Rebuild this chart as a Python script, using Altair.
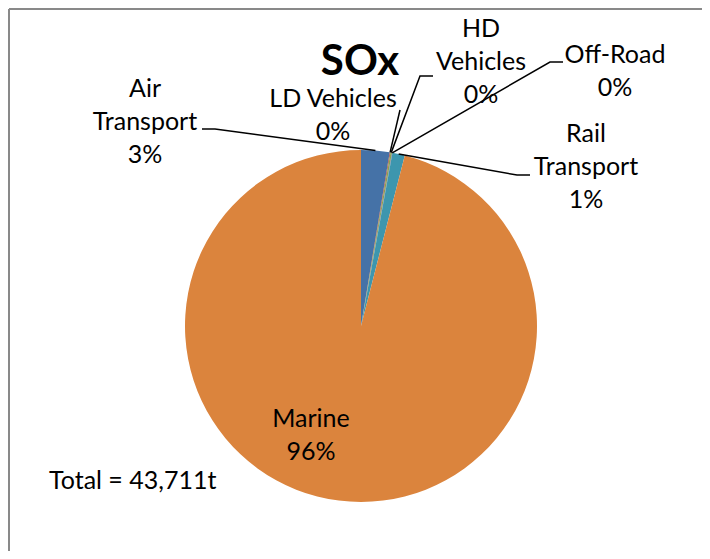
import math
import altair as alt
import pandas as pd

# ---------------- data ----------------
categories = ["Air Transport", "LD Vehicles", "HD Vehicles", "Off-Road", "Rail Transport", "Marine"]
values_t = [1140, 30, 60, 20, 500, 41961]          # tonnes of SOx
label_lines = [["Air", "Transport"], ["LD Vehicles"], ["HD", "Vehicles"],
               ["Off-Road"], ["Rail", "Transport"], ["Marine"]]
colors = ["#4572A7", "#AA4643", "#89A54E", "#80699B", "#3D96AE", "#DB843D"]
title_text = "SOx"

total = sum(values_t)
pcts = [f"{round(v / total * 100)}%" for v in values_t]

# ---------------- layout (view pixels = page pixels - 8) ----------------
W, H = 694, 543
OFF = 8
CX, CY, R = 361 - OFF, 326 - OFF, 176
LINE_H = 33
FONT = "Lato"
FS = 25

# label anchor: centre x, baseline of first line (page coords)
label_pos = {
    "Air Transport": (145, 97),
    "LD Vehicles": (333, 107),
    "HD Vehicles": (481, 37),
    "Off-Road": (615, 63),
    "Rail Transport": (586, 142),
    "Marine": (311, 427),
}
# leader line start points (page coords) before reaching the slice edge
leader_pts = {
    "Air Transport": [(202, 129), (215, 129)],
    "LD Vehicles": [(400, 110)],
    "HD Vehicles": [(433, 76), (420, 76)],
    "Off-Road": [(563, 62), (550, 62)],
    "Rail Transport": [(530, 175), (517, 175)],
}

# ---------------- tables ----------------
pie_df = pd.DataFrame({"category": categories, "value": values_t, "idx": range(len(categories))})

rows = []
for cat, lines, pct in zip(categories, label_lines, pcts):
    cx, by = label_pos[cat]
    for i, txt in enumerate(lines + [pct]):
        rows.append({"x": cx - OFF, "y": by + i * LINE_H - OFF, "text": txt})
text_df = pd.DataFrame(rows)

# slice mid-angle edge points
cum = 0
edge = {}
for cat, v in zip(categories, values_t):
    mid = (cum + v / 2) / total * 2 * math.pi
    edge[cat] = (CX + R * math.sin(mid), CY - R * math.cos(mid))
    cum += v

lrows = []
for cat, pts in leader_pts.items():
    seq = 0
    for (px, py) in pts:
        lrows.append({"cat": cat, "seq": seq, "x": px - OFF, "y": py - OFF})
        seq += 1
    ex, ey = edge[cat]
    lrows.append({"cat": cat, "seq": seq, "x": ex, "y": ey})
leader_df = pd.DataFrame(lrows)

border_df = pd.DataFrame({"x": [1, 1], "y": [1, 1], "x2": [W, 1], "y2": [1, H]})
title_df = pd.DataFrame({"x": [360 - OFF], "y": [75 - OFF], "text": [title_text]})
total_df = pd.DataFrame({"x": [49 - OFF], "y": [489 - OFF], "text": [f"Total = {total:,}t"]})

xs = alt.Scale(domain=[0, W], nice=False, zero=False)
ys = alt.Scale(domain=[0, H], nice=False, zero=False, reverse=True)

border = alt.Chart(border_df).mark_rule(color="#898989", strokeWidth=2).encode(
    x=alt.X("x:Q", scale=xs, axis=None), y=alt.Y("y:Q", scale=ys, axis=None),
    x2="x2:Q", y2="y2:Q")

pie = alt.Chart(pie_df).mark_arc(radius=R).encode(
    theta=alt.Theta("value:Q", stack=True),
    color=alt.Color("category:N", scale=alt.Scale(domain=categories, range=colors), legend=None),
    order=alt.Order("idx:Q"),
    x=alt.value(CX), y=alt.value(CY))

leaders = alt.Chart(leader_df).mark_line(color="black", strokeWidth=1.5).encode(
    x=alt.X("x:Q", scale=xs, axis=None), y=alt.Y("y:Q", scale=ys, axis=None),
    detail="cat:N", order="seq:Q")

labels = alt.Chart(text_df).mark_text(font=FONT, fontSize=FS, align="center",
                                      baseline="alphabetic", color="black").encode(
    x=alt.X("x:Q", scale=xs, axis=None), y=alt.Y("y:Q", scale=ys, axis=None), text="text:N")

title = alt.Chart(title_df).mark_text(font=FONT, fontSize=42, fontWeight="bold", align="center",
                                      baseline="alphabetic", color="black").encode(
    x=alt.X("x:Q", scale=xs, axis=None), y=alt.Y("y:Q", scale=ys, axis=None), text="text:N")

total_lbl = alt.Chart(total_df).mark_text(font=FONT, fontSize=FS, align="left",
                                          baseline="alphabetic", color="black").encode(
    x=alt.X("x:Q", scale=xs, axis=None), y=alt.Y("y:Q", scale=ys, axis=None), text="text:N")

chart = alt.layer(border, pie, leaders, labels, title, total_lbl).properties(
    width=W, height=H, padding=0, autosize=alt.AutoSizeParams(type="none"),
    background="white"
).configure_view(stroke=None)

chart.save("out.html", embed_options={"renderer": "svg", "actions": False})
